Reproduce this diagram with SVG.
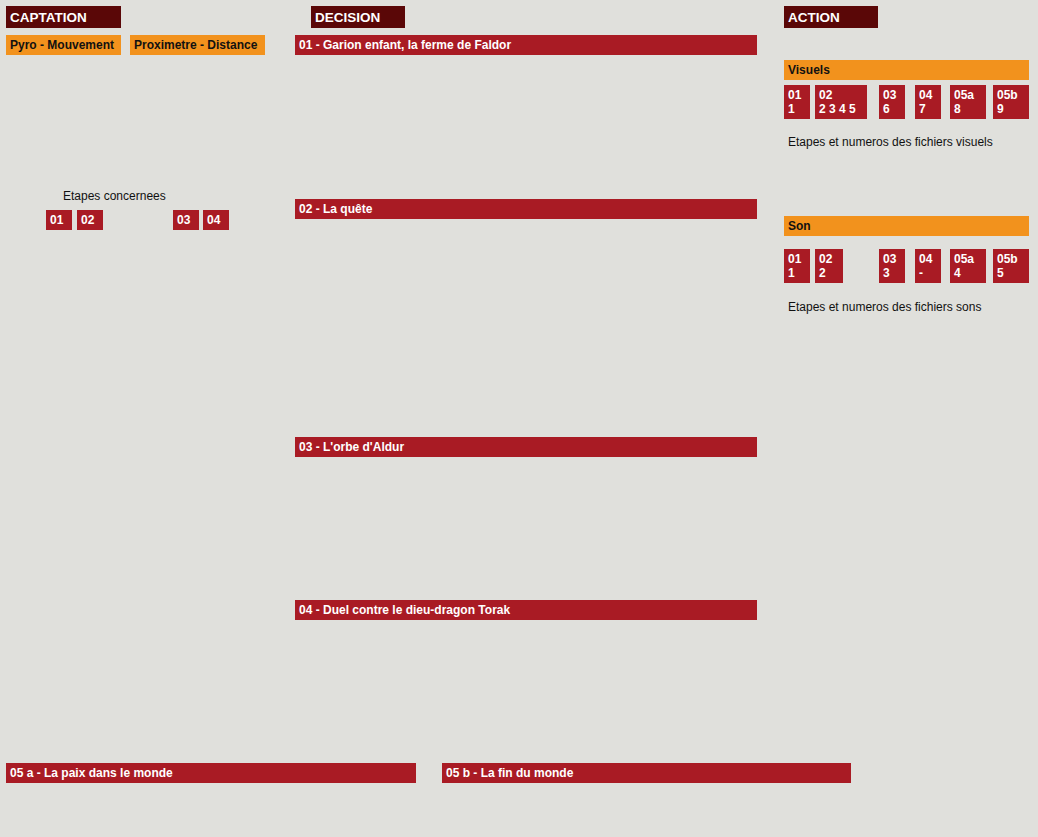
<svg xmlns="http://www.w3.org/2000/svg" width="1038" height="837" viewBox="0 0 1038 837">
<style>
.bg{fill:#e0e0dc}
.hd{fill:#5a0707}
.rd{fill:#a91b24}
.or{fill:#f2921d}
.ht{font-family:"Liberation Sans",Arial,sans-serif;font-weight:bold;font-size:13.5px;fill:#ffffff}
.wt{font-family:"Liberation Sans",Arial,sans-serif;font-weight:bold;font-size:12px;fill:#ffffff}
.bt{font-family:"Liberation Sans",Arial,sans-serif;font-weight:bold;font-size:12px;fill:#111111}
.nt{font-family:"Liberation Sans",Arial,sans-serif;font-size:12px;fill:#111111}
</style>
<rect class="bg" x="0" y="0" width="1038" height="837"/>

<g id="captation">
<rect class="hd" x="6" y="6" width="115" height="22"/>
<text class="ht" x="10" y="22">CAPTATION</text>
</g>
<g id="decision">
<rect class="hd" x="311" y="6" width="94" height="22"/>
<text class="ht" x="315" y="22">DECISION</text>
</g>
<g id="action">
<rect class="hd" x="784" y="6" width="94" height="22"/>
<text class="ht" x="788" y="22">ACTION</text>
</g>

<g id="pyro">
<rect class="or" x="6" y="35" width="115" height="20"/>
<text class="bt" x="10" y="49">Pyro - Mouvement</text>
</g>
<g id="proximetre">
<rect class="or" x="130" y="35" width="135" height="20"/>
<text class="bt" x="134" y="49">Proximetre - Distance</text>
</g>

<g id="etapes-concernees">
<text class="nt" x="63" y="200">Etapes concernees</text>
<rect class="rd" x="46" y="210" width="26" height="20"/>
<text class="wt" x="50" y="224">01</text>
<rect class="rd" x="77" y="210" width="26" height="20"/>
<text class="wt" x="81" y="224">02</text>
<rect class="rd" x="173" y="210" width="26" height="20"/>
<text class="wt" x="177" y="224">03</text>
<rect class="rd" x="203" y="210" width="26" height="20"/>
<text class="wt" x="207" y="224">04</text>
</g>

<g id="step01">
<rect class="rd" x="295" y="35" width="462" height="20"/>
<text class="wt" x="299" y="49">01 - Garion enfant, la ferme de Faldor</text>
</g>
<g id="step02">
<rect class="rd" x="295" y="199" width="462" height="20"/>
<text class="wt" x="299" y="213">02 - La quête</text>
</g>
<g id="step03">
<rect class="rd" x="295" y="437" width="462" height="20"/>
<text class="wt" x="299" y="451">03 - L'orbe d'Aldur</text>
</g>
<g id="step04">
<rect class="rd" x="295" y="600" width="462" height="20"/>
<text class="wt" x="299" y="614">04 - Duel contre le dieu-dragon Torak</text>
</g>
<g id="step05a">
<rect class="rd" x="6" y="763" width="410" height="20"/>
<text class="wt" x="10" y="777">05 a - La paix dans le monde</text>
</g>
<g id="step05b">
<rect class="rd" x="442" y="763" width="409" height="20"/>
<text class="wt" x="446" y="777">05 b - La fin du monde</text>
</g>

<g id="visuels">
<rect class="or" x="784" y="60" width="245" height="20"/>
<text class="bt" x="788" y="74">Visuels</text>
<rect class="rd" x="784" y="85" width="26" height="34"/>
<text class="wt" x="788" y="99">01</text><text class="wt" x="788" y="113">1</text>
<rect class="rd" x="815" y="85" width="52" height="34"/>
<text class="wt" x="819" y="99">02</text><text class="wt" x="819" y="113">2 3 4 5</text>
<rect class="rd" x="879" y="85" width="26" height="34"/>
<text class="wt" x="883" y="99">03</text><text class="wt" x="883" y="113">6</text>
<rect class="rd" x="915" y="85" width="26" height="34"/>
<text class="wt" x="919" y="99">04</text><text class="wt" x="919" y="113">7</text>
<rect class="rd" x="950" y="85" width="36" height="34"/>
<text class="wt" x="954" y="99">05a</text><text class="wt" x="954" y="113">8</text>
<rect class="rd" x="993" y="85" width="36" height="34"/>
<text class="wt" x="997" y="99">05b</text><text class="wt" x="997" y="113">9</text>
<text class="nt" x="788" y="146">Etapes et numeros des fichiers visuels</text>
</g>

<g id="son">
<rect class="or" x="784" y="216" width="245" height="20"/>
<text class="bt" x="788" y="230">Son</text>
<rect class="rd" x="784" y="249" width="26" height="34"/>
<text class="wt" x="788" y="263">01</text><text class="wt" x="788" y="277">1</text>
<rect class="rd" x="815" y="249" width="28" height="34"/>
<text class="wt" x="819" y="263">02</text><text class="wt" x="819" y="277">2</text>
<rect class="rd" x="879" y="249" width="26" height="34"/>
<text class="wt" x="883" y="263">03</text><text class="wt" x="883" y="277">3</text>
<rect class="rd" x="915" y="249" width="26" height="34"/>
<text class="wt" x="919" y="263">04</text><text class="wt" x="919" y="277">-</text>
<rect class="rd" x="950" y="249" width="36" height="34"/>
<text class="wt" x="954" y="263">05a</text><text class="wt" x="954" y="277">4</text>
<rect class="rd" x="993" y="249" width="36" height="34"/>
<text class="wt" x="997" y="263">05b</text><text class="wt" x="997" y="277">5</text>
<text class="nt" x="788" y="311">Etapes et numeros des fichiers sons</text>
</g>

<g id="connectors"/>
</svg>
